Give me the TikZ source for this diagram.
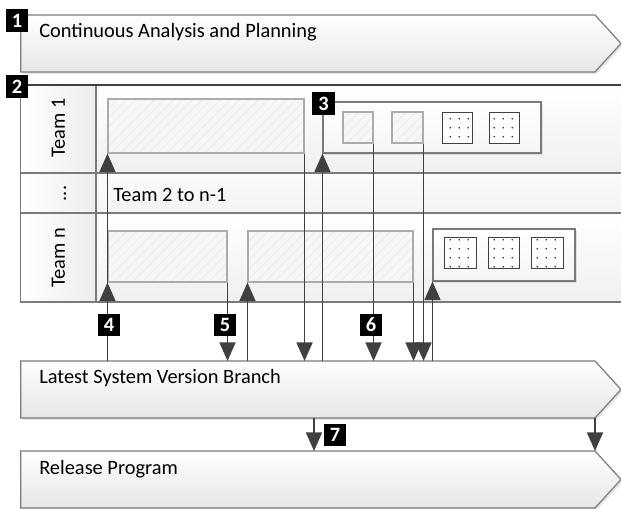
\documentclass[tikz,border=0pt]{standalone}
\usepackage{fontspec}
\setmainfont{Carlito}
\usetikzlibrary{arrows.meta,fit,patterns.meta,shadows}

\definecolor{linegray}{HTML}{404040}
\definecolor{framegray}{HTML}{7A7A7A}
\definecolor{bandgray}{HTML}{E6E6E6}

\tikzset{
  band/.style={draw=framegray, line width=.9pt, top color=white, bottom color=bandgray,
    drop shadow={shadow xshift=1.5pt, shadow yshift=-1.5pt, opacity=.2}},
  flow/.style={draw=linegray, line width=1.4pt, -{Triangle[length=14pt,width=12pt]}},
  tag/.style={fill=black, text=white, font=\fontsize{15.3pt}{18pt}\bfseries,
    minimum size=17pt, inner sep=0pt},
  panel/.style={draw=framegray, line width=.8pt, inner sep=0pt,
    top color=white, bottom color=gray!8,
    drop shadow={shadow xshift=1.2pt, shadow yshift=-1.2pt, opacity=.2}},
  workbox/.style={draw=gray!65, line width=.8pt, inner sep=0pt,
    preaction={fill=gray!6},
    preaction={pattern={Lines[angle=45,distance=5pt,line width=.5pt]}, pattern color=gray!16}},
  itembox/.style={drop shadow={shadow xshift=1pt, shadow yshift=-1pt, opacity=.15}, workbox},
  donebox/.style={drop shadow={shadow xshift=1pt, shadow yshift=-1pt, opacity=.12},
    draw=black!75, line width=.6pt, inner sep=0pt,
    preaction={fill=white},
    preaction={pattern={Dots[distance=6.5pt,radius=.7pt]}, pattern color=black!85}},
}

\begin{document}
\begin{tikzpicture}[x=.75pt, y=-.75pt, font=\fontsize{15.3pt}{18pt}\selectfont]
\useasboundingbox (0,0) rectangle (621,509);
\clip (0,0) rectangle (621,509);

% planning band
\path[band] (20.7,15) -- (595,15) -- (621,43.5) -- (595,72) -- (20.7,72) -- cycle;
\node[anchor=base west, inner sep=0pt] (plan) at (39,37.5) {Continuous Analysis and Planning};

% swimlanes
\fill[left color=white, right color=gray!14] (20.7,85) rectangle (96,302);
\fill[top color=white, bottom color=gray!12] (96,85) rectangle (640,173);
\fill[top color=gray!3, bottom color=gray!9] (96,173) rectangle (640,213);
\fill[top color=white, bottom color=gray!12] (96,213) rectangle (640,302);
\draw[framegray, line width=.9pt]
  (20.7,173) -- (640,173)
  (20.7,213) -- (640,213)
  (96,85) -- (96,302);
\draw[framegray, line width=.9pt] (20.7,85) rectangle (640,302);
\draw[linegray, line width=1.6pt] (20.7,85) -- (640,85);

\node[rotate=90, inner sep=0pt] (lane1) at (58.5,128) {Team 1};
\node[rotate=90, inner sep=0pt] (lanedots) at (65,193.5) {...};
\node[rotate=90, inner sep=0pt] (lanen) at (58.5,257.5) {Team n};
\node[anchor=base west, inner sep=0pt] (lanemid) at (113,201.5) {Team 2 to n-1};

% team 1
\node[workbox, fit={(108,99) (304,153)}] (t1work) {};
\node[panel, fit={(323,102) (541,153)}] (t1backlog) {};
\node[itembox, fit={(343,112) (373,143)}] (t1itemA) {};
\node[itembox, fit={(392,112) (423,143)}] (t1itemB) {};
\node[donebox, fit={(442,112) (472,143)}] (t1itemC) {};
\node[donebox, fit={(489,112) (519,143)}] (t1itemD) {};

% team n
\node[workbox, fit={(108,231) (227,282)}] (tnworkA) {};
\node[workbox, fit={(248,231) (413,282)}] (tnworkB) {};
\node[panel, fit={(433,229) (575,281)}] (tnbacklog) {};
\node[donebox, fit={(444,237) (476,268)}] (tnitemA) {};
\node[donebox, fit={(488,237) (519,268)}] (tnitemB) {};
\node[donebox, fit={(531,237) (563,268)}] (tnitemC) {};

% branch and release bands
\path[band] (20.7,361) coordinate (branch top) -- (595,361) -- (621,389.5)
  -- (595,418) coordinate (branch se) -- (20.7,418) -- cycle;
\node[anchor=base west, inner sep=0pt] (branch) at (39,384) {Latest System Version Branch};

\path[band] (20.7,451) coordinate (release top) -- (595,451) coordinate (release ne)
  -- (621,479.5) -- (595,508) -- (20.7,508) -- cycle;
\node[anchor=base west, inner sep=0pt] (release) at (39,474) {Release Program};

% merges between lanes and branch
\draw[flow] (t1work.south west |- branch top) -- (tnworkA.south west);
\draw[flow] (t1work.south west |- branch top) -- (t1work.south west);
\draw[flow] (tnworkA.south east) -- (tnworkA.south east |- branch top);
\draw[flow] (tnworkB.south west |- branch top) -- (tnworkB.south west);
\draw[flow] (t1work.south east) -- (t1work.south east |- branch top);
\draw[flow] (t1backlog.south west |- branch top) -- (t1backlog.south west);
\draw[flow] (t1itemA.south east) -- (t1itemA.south east |- branch top);
\draw[flow] (tnworkB.south east) -- (tnworkB.south east |- branch top);
\draw[flow] (t1itemB.south east) -- (t1itemB.south east |- branch top);
\draw[flow] (tnbacklog.south west |- branch top) -- (tnbacklog.south west);

% branch to release
\coordinate (cut) at (314,418);
\draw[flow] (cut) -- (cut |- release top);
\draw[flow] (branch se) -- (release ne);

% step tags
\node[tag] (tag1) at (17,20.5) {1};
\node[tag] (tag2) at (17,86.5) {2};
\node[tag] (tag3) at (323.5,103.5) {3};
\node[tag] (tag4) at (109,325) {4};
\node[tag] (tag5) at (225,325) {5};
\node[tag] (tag6) at (371,325) {6};
\node[tag] (tag7) at (335,435) {7};

\end{tikzpicture}
\end{document}
